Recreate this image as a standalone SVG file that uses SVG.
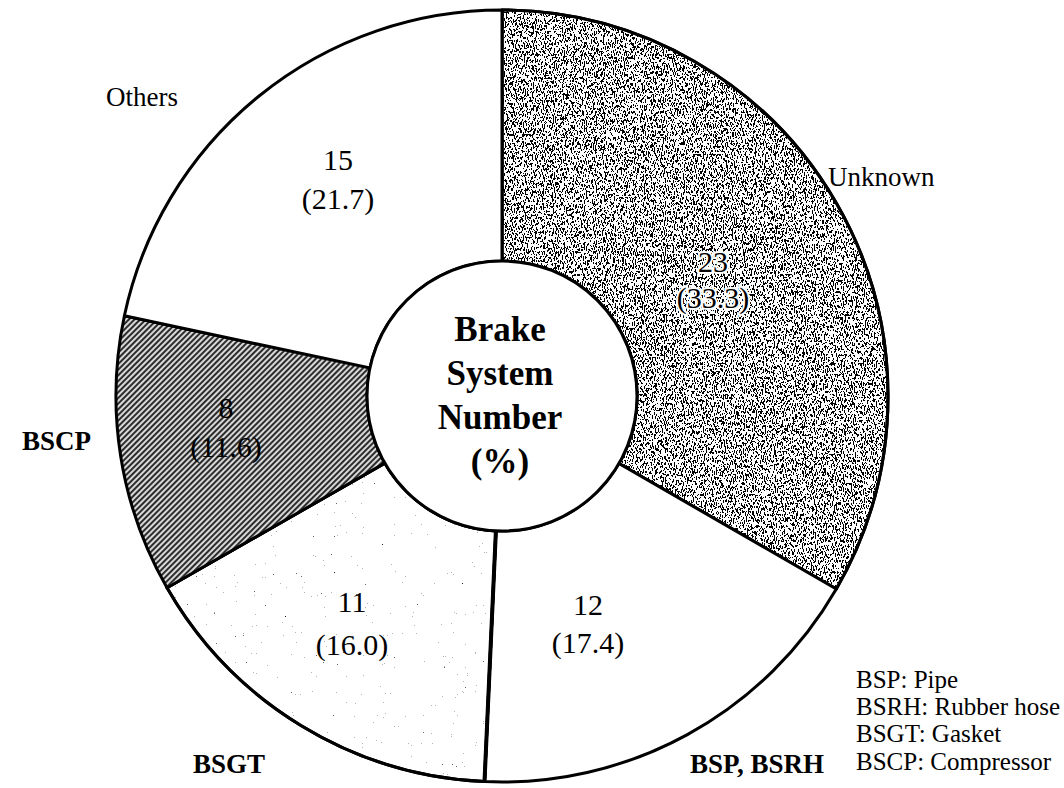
<svg xmlns="http://www.w3.org/2000/svg" width="1064" height="788" viewBox="0 0 1064 788">
  <style>
    .sector { stroke: #000; stroke-width: 3; stroke-linejoin: round; }
    .val { font-family: "Liberation Serif", "Times New Roman", serif; font-size: 30px; fill: #000; text-anchor: middle; }
    .cat { font-family: "Liberation Serif", "Times New Roman", serif; font-size: 27px; fill: #000; }
    .catb { font-family: "Liberation Serif", "Times New Roman", serif; font-size: 27px; font-weight: bold; fill: #000; }
    .title { font-family: "Liberation Serif", "Times New Roman", serif; font-size: 35px; font-weight: bold; fill: #000; text-anchor: middle; }
    .legend { font-family: "Liberation Serif", "Times New Roman", serif; font-size: 25px; fill: #000; }
  </style>
  <defs>
    <!-- fine dark speckle with a slight vertical grain -->
    <filter id="grainDark" color-interpolation-filters="sRGB">
      <feTurbulence type="fractalNoise" baseFrequency="1.1 0.35" numOctaves="2" seed="7" result="n"/>
      <feColorMatrix in="n" type="matrix" values="0 0 0 0 0  0 0 0 0 0  0 0 0 0 0  1 0 0 0 0" result="a"/>
      <feComponentTransfer in="a" result="t">
        <feFuncA type="discrete" tableValues="0 0 0 0 0 0 0 0 0 0 0 1 1 1 1 1 1 1 1 1"/>
      </feComponentTransfer>
      <feComposite in="t" in2="SourceAlpha" operator="in"/>
    </filter>
    <!-- sparse light speckle -->
    <filter id="grainLight" color-interpolation-filters="sRGB">
      <feTurbulence type="fractalNoise" baseFrequency="0.9" numOctaves="2" seed="11" result="n"/>
      <feColorMatrix in="n" type="matrix" values="0 0 0 0 0  0 0 0 0 0  0 0 0 0 0  1 0 0 0 0" result="a"/>
      <feComponentTransfer in="a" result="t">
        <feFuncA type="discrete" tableValues="0 0 0 0 0 0 0 0 0 0 0 0 0 0 0 0 0.3 0.6 0.9 1"/>
      </feComponentTransfer>
      <feComposite in="t" in2="SourceAlpha" operator="in"/>
    </filter>
    <!-- diagonal hatching -->
    <pattern id="hatch" width="4" height="4" patternUnits="userSpaceOnUse" patternTransform="rotate(45)">
      <rect width="4" height="4" fill="#d8d8d8"/>
      <line x1="1" y1="0" x2="1" y2="4" stroke="#000" stroke-width="1.6"/>
    </pattern>
  </defs>

  <rect width="1064" height="788" fill="#fff"/>

  <!-- Unknown: 23 (33.3) -->
  <g id="unknown">
    <path class="sector" fill="#fff" d="M502,10 A386,386 0 0 1 836.3,589 L618.9,463.5 A135,135 0 0 0 502,261 Z"/>
    <path fill="#000" filter="url(#grainDark)" d="M502,10 A386,386 0 0 1 836.3,589 L618.9,463.5 A135,135 0 0 0 502,261 Z"/>
    <path class="sector" fill="none" d="M502,10 A386,386 0 0 1 836.3,589 L618.9,463.5 A135,135 0 0 0 502,261 Z"/>
    <text class="val" x="713" y="272" stroke="#fff" stroke-width="4" paint-order="stroke">23</text>
    <text class="val" x="713" y="308" stroke="#fff" stroke-width="4" paint-order="stroke">(33.3)</text>
    <text class="cat" x="828" y="186" font-size="25">Unknown</text>
  </g>

  <!-- BSP, BSRH: 12 (17.4) -->
  <g id="bsp-bsrh">
    <path class="sector" fill="#fff" d="M836.3,589 A386,386 0 0 1 484.5,781.6 L495.9,530.9 A135,135 0 0 0 618.9,463.5 Z"/>
    <text class="val" x="588" y="615">12</text>
    <text class="val" x="588" y="653">(17.4)</text>
    <text class="catb" x="690" y="773">BSP, BSRH</text>
  </g>

  <!-- BSGT: 11 (16.0) -->
  <g id="bsgt">
    <path class="sector" fill="#fff" d="M484.5,781.6 A386,386 0 0 1 167,587.8 L384.8,463.1 A135,135 0 0 0 495.9,530.9 Z"/>
    <path fill="#000" filter="url(#grainLight)" d="M484.5,781.6 A386,386 0 0 1 167,587.8 L384.8,463.1 A135,135 0 0 0 495.9,530.9 Z"/>
    <path class="sector" fill="none" d="M484.5,781.6 A386,386 0 0 1 167,587.8 L384.8,463.1 A135,135 0 0 0 495.9,530.9 Z"/>
    <line x1="484.5" y1="781.6" x2="495.9" y2="530.9" stroke="#000" stroke-width="4"/>
    <text class="val" x="352" y="612">11</text>
    <text class="val" x="352" y="655">(16.0)</text>
    <text class="catb" x="193" y="773">BSGT</text>
  </g>

  <!-- BSCP: 8 (11.6) -->
  <g id="bscp">
    <path class="sector" fill="url(#hatch)" d="M167,587.8 A386,386 0 0 1 124.4,315.7 L370,367.9 A135,135 0 0 0 384.8,463.1 Z"/>
    <text class="val" x="226" y="418">8</text>
    <text class="val" x="226" y="457">(11.6)</text>
    <text class="catb" x="22" y="450">BSCP</text>
  </g>

  <!-- Others: 15 (21.7) -->
  <g id="others">
    <path class="sector" fill="#fff" d="M124.4,315.7 A386,386 0 0 1 502,10 L502,261 A135,135 0 0 0 370,367.9 Z"/>
    <text class="val" x="338" y="170">15</text>
    <text class="val" x="338" y="209">(21.7)</text>
    <text class="cat" x="106" y="106">Others</text>
  </g>

  <!-- centre hub -->
  <g id="hub">
    <circle cx="502" cy="396" r="135" fill="#fff" stroke="#000" stroke-width="3"/>
    <text class="title" x="500" y="341">Brake</text>
    <text class="title" x="500" y="385">System</text>
    <text class="title" x="500" y="429">Number</text>
    <text class="title" x="500" y="473">(%)</text>
  </g>

  <!-- legend -->
  <g id="legend">
    <text class="legend" x="856" y="688">BSP: Pipe</text>
    <text class="legend" x="856" y="715">BSRH: Rubber hose</text>
    <text class="legend" x="856" y="742">BSGT: Gasket</text>
    <text class="legend" x="856" y="770">BSCP: Compressor</text>
  </g>
</svg>
